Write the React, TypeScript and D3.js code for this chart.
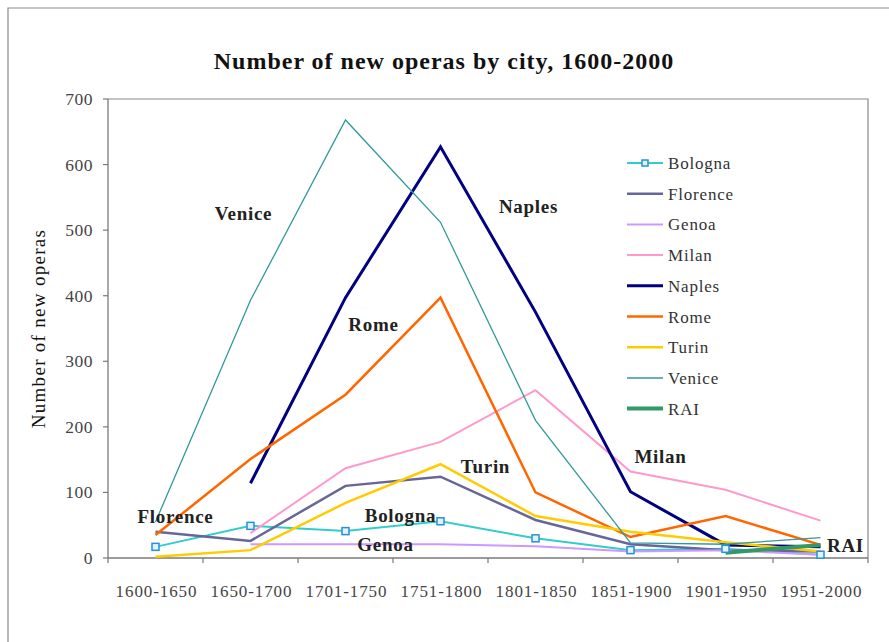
import React from "react";
import * as d3 from "d3";

const categories = ["1600-1650", "1650-1700", "1701-1750", "1751-1800", "1801-1850", "1851-1900", "1901-1950", "1951-2000"];
const yTicks = [0, 100, 200, 300, 400, 500, 600, 700];

const bologna = [17, 49, 41, 56, 30, 12, 14, 5];
const florence = [40, 26, 110, 124, 58, 21, 12, 10];
const genoa = [null, 21, 21, 21, 18, 10, 12, 5];
const milan = [null, 38, 137, 177, 256, 132, 104, 57];
const naples = [null, 114, 397, 627, 375, 101, 20, 17];
const rome = [35, 151, 249, 397, 100, 32, 64, 20];
const turin = [2, 12, 84, 143, 64, 40, 24, 10];
const venice = [55, 393, 668, 512, 210, 23, 21, 31];
const rai = [null, null, null, null, null, null, 8, 20];

const seriesNames = ["Bologna", "Florence", "Genoa", "Milan", "Naples", "Rome", "Turin", "Venice", "RAI"];
const seriesValues = [bologna, florence, genoa, milan, naples, rome, turin, venice, rai];
const seriesColors = ["#33CCCC", "#666699", "#CC99FF", "#FF99CC", "#000080", "#FF6600", "#FFCC00", "#339999", "#339966"];
const seriesWidths = [2, 2.5, 2, 2, 3, 2.5, 2.5, 1.3, 4];

const annoNames = ["Venice", "Naples", "Rome", "Turin", "Milan", "Florence", "Bologna", "Genoa", "RAI"];
const annoCat = [1, 4, 2, 4, 5, 0, 3, 2, 7];
const annoVal = [515, 526, 346, 130, 145, 53, 55, 11, 9];
const annoDx = [-7, -7, 28, -50, 30, 20, -40, 40, 25];

const W = 889, H = 642;
const M = { left: 108, right: 868, top: 99, bottom: 558 };
const serif = "'Liberation Serif', 'DejaVu Serif', serif";

export default function App() {
  const x = d3.scaleBand<string>().domain(categories).range([M.left, M.right]);
  const y = d3.scaleLinear().domain([0, 700]).range([M.bottom, M.top]);
  const cx = (i: number) => (x(categories[i]) as number) + x.bandwidth() / 2;

  const line = d3
    .line<number | null>()
    .defined((d) => d !== null)
    .x((_, i) => cx(i))
    .y((d) => y(d as number));

  const legX = 627, legY0 = 163, legDy = 30.7;

  return (
    <svg width={W} height={H} style={{ position: "absolute", left: 0, top: 0, background: "#fff" }}>
      <rect x={0} y={0} width={W} height={H} fill="#fff" />
      <path d={`M8,${H + 2} V8 H${W + 2}`} fill="none" stroke="#8a8a8a" strokeWidth={1.2} />
      <text x={444} y={69} textAnchor="middle" fontFamily={serif} fontSize={24} fontWeight="bold" letterSpacing={1} fill="#111">
        Number of new operas by city, 1600-2000
      </text>
      <path d={`M${M.left},${M.top} H${M.right} V${M.bottom}`} fill="none" stroke="#8a8a8a" strokeWidth={1.2} />
      <line x1={M.left} x2={M.left} y1={M.top} y2={M.bottom} stroke="#7a7a7a" strokeWidth={1.3} />
      <line x1={M.left} x2={M.right} y1={M.bottom} y2={M.bottom} stroke="#7a7a7a" strokeWidth={1.3} />
      {yTicks.map((t) => (
        <g key={t}>
          <line x1={M.left - 5} x2={M.left} y1={y(t)} y2={y(t)} stroke="#7a7a7a" strokeWidth={1.2} />
          <text x={93} y={y(t) + 6} textAnchor="end" fontFamily={serif} fontSize={17.5} letterSpacing={0.5} fill="#444">
            {t}
          </text>
        </g>
      ))}
      {categories.map((c, i) => (
        <g key={c}>
          <line x1={x(c) as number} x2={x(c) as number} y1={M.bottom} y2={M.bottom + 5} stroke="#7a7a7a" strokeWidth={1.2} />
          <text x={cx(i) + 1} y={M.bottom + 39} textAnchor="middle" fontFamily={serif} fontSize={17} letterSpacing={0.9} fill="#444">
            {c}
          </text>
        </g>
      ))}
      <line x1={M.right} x2={M.right} y1={M.bottom} y2={M.bottom + 5} stroke="#7a7a7a" strokeWidth={1.2} />
      <text
        transform={`translate(45,${(M.top + M.bottom) / 2}) rotate(-90)`}
        textAnchor="middle"
        fontFamily={serif}
        fontSize={19}
        letterSpacing={1.3}
        fill="#111"
      >
        Number of new operas
      </text>
      {seriesValues.map((vals, s) => (
        <path
          key={seriesNames[s]}
          d={line(vals) || ""}
          fill="none"
          stroke={seriesColors[s]}
          strokeWidth={seriesWidths[s]}
          strokeLinejoin="miter"
        />
      ))}
      {bologna.map((v, i) => (
        <rect key={i} x={cx(i) - 3.5} y={y(v) - 3.5} width={7} height={7} fill="#dff4ff" stroke="#2a8fd8" strokeWidth={1.5} />
      ))}
      {annoNames.map((n, i) => (
        <text
          key={n}
          x={cx(annoCat[i]) + annoDx[i]}
          y={y(annoVal[i])}
          textAnchor="middle"
          fontFamily={serif}
          fontSize={19}
          letterSpacing={0.7}
          fontWeight="bold"
          fill="#222"
        >
          {n}
        </text>
      ))}
      {seriesNames.map((n, i) => (
        <g key={n}>
          <line x1={legX} x2={legX + 36} y1={legY0 + i * legDy} y2={legY0 + i * legDy} stroke={seriesColors[i]} strokeWidth={seriesWidths[i] < 2 ? 1.5 : seriesWidths[i]} />
          {i === 0 && (
            <rect x={legX + 18 - 3} y={legY0 - 3} width={6} height={6} fill="#dff4ff" stroke="#2a8fd8" strokeWidth={1.5} />
          )}
          <text x={legX + 41} y={legY0 + i * legDy + 6} fontFamily={serif} fontSize={17} letterSpacing={0.8} fill="#333">
            {n}
          </text>
        </g>
      ))}
    </svg>
  );
}
